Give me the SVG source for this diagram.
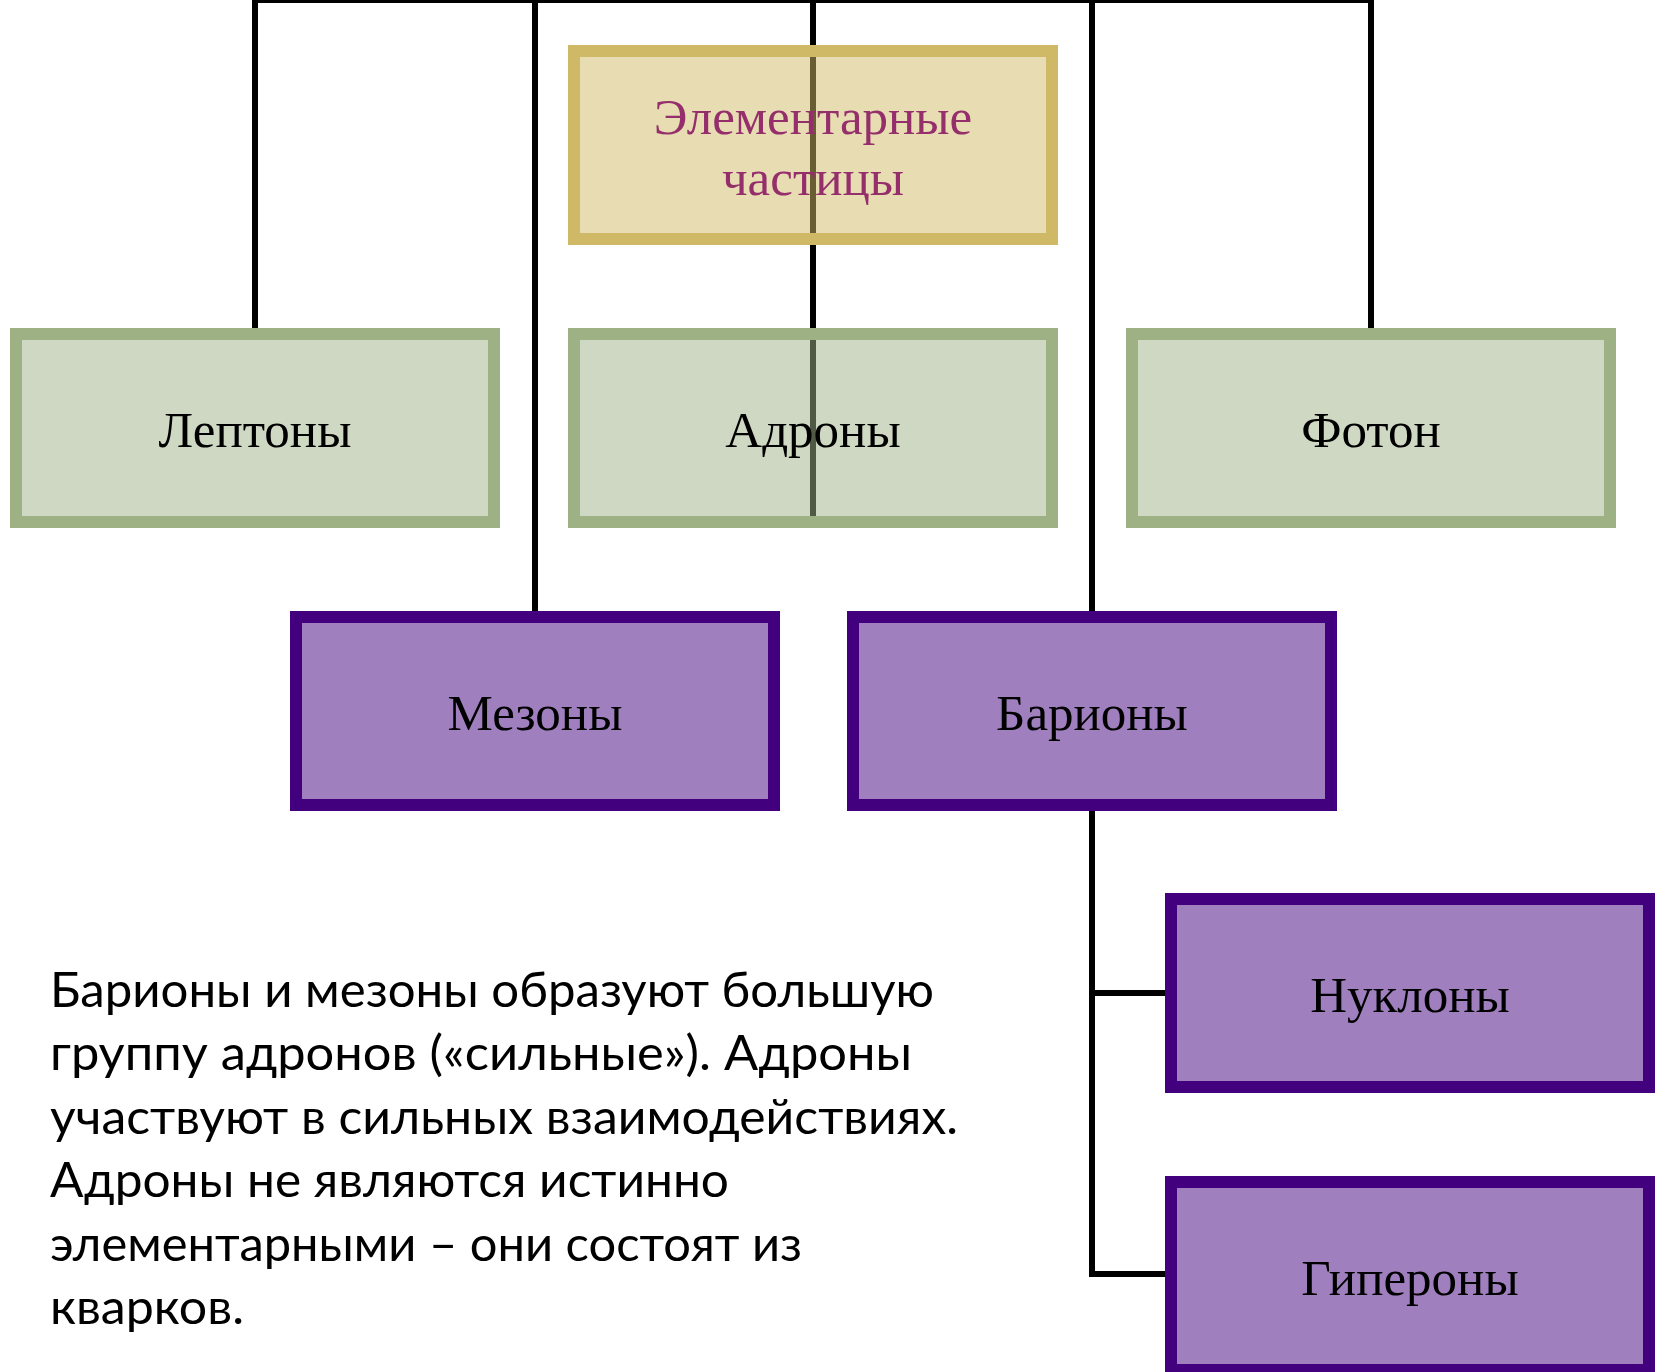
<svg xmlns="http://www.w3.org/2000/svg" width="1660" height="1372" viewBox="0 0 1660 1372">
<style>
.conn{fill:none;stroke:#000;stroke-width:6;stroke-linejoin:miter}
.g rect{fill:#9EB185;fill-opacity:0.5;stroke:#9EB185;stroke-width:12}
.y rect{fill:#CFB966;fill-opacity:0.5;stroke:#CFB966;stroke-width:12}
.p rect{fill:#42007F;fill-opacity:0.5;stroke:#42007F;stroke-width:12}
.lbl{font-family:"Liberation Serif","Times New Roman",serif;font-size:51px;fill:#000;text-anchor:middle}
.title{fill:#952F6C}
.para{font-family:Lato,"Liberation Sans",sans-serif;font-size:49px;fill:#000}
</style>
<rect width="1660" height="1372" fill="#fff"/>
<g id="connectors" class="conn">
<path d="M255 328 V0 H1371 V328"/>
<path d="M535 0 V611"/>
<path d="M813 0 V528"/>
<path d="M1092 0 V611"/>
<path d="M1092 810 V1274 H1165"/>
<path d="M1092 993 H1165"/>
</g>
<g id="elementary" class="y">
<rect x="574" y="51" width="478" height="188"/>
<text class="lbl title" x="813" y="134">Элементарные</text>
<text class="lbl title" x="813" y="195">частицы</text>
</g>
<g id="leptons" class="g">
<rect x="16" y="334" width="478" height="188"/>
<text class="lbl" x="255" y="447">Лептоны</text>
</g>
<g id="hadrons" class="g">
<rect x="574" y="334" width="478" height="188"/>
<text class="lbl" x="813" y="447">Адроны</text>
</g>
<g id="photon" class="g">
<rect x="1132" y="334" width="478" height="188"/>
<text class="lbl" x="1371" y="447">Фотон</text>
</g>
<g id="mesons" class="p">
<rect x="296" y="617" width="478" height="188"/>
<text class="lbl" x="535" y="730">Мезоны</text>
</g>
<g id="baryons" class="p">
<rect x="853" y="617" width="478" height="188"/>
<text class="lbl" x="1092" y="730">Барионы</text>
</g>
<g id="nucleons" class="p">
<rect x="1171" y="899" width="478" height="188"/>
<text class="lbl" x="1410" y="1012">Нуклоны</text>
</g>
<g id="hyperons" class="p">
<rect x="1171" y="1182" width="478" height="188"/>
<text class="lbl" x="1410" y="1295">Гипероны</text>
</g>
<g id="note" class="para">
<text x="50" y="1007" textLength="884" lengthAdjust="spacingAndGlyphs">Барионы и мезоны образуют большую</text>
<text x="50" y="1070" textLength="862" lengthAdjust="spacingAndGlyphs">группу адронов («сильные»). Адроны</text>
<text x="50" y="1134" textLength="908" lengthAdjust="spacingAndGlyphs">участвуют в сильных взаимодействиях.</text>
<text x="50" y="1197" textLength="679" lengthAdjust="spacingAndGlyphs">Адроны не являются истинно</text>
<text x="50" y="1261" textLength="752" lengthAdjust="spacingAndGlyphs">элементарными – они состоят из</text>
<text x="50" y="1324" textLength="194" lengthAdjust="spacingAndGlyphs">кварков.</text>
</g>
</svg>
